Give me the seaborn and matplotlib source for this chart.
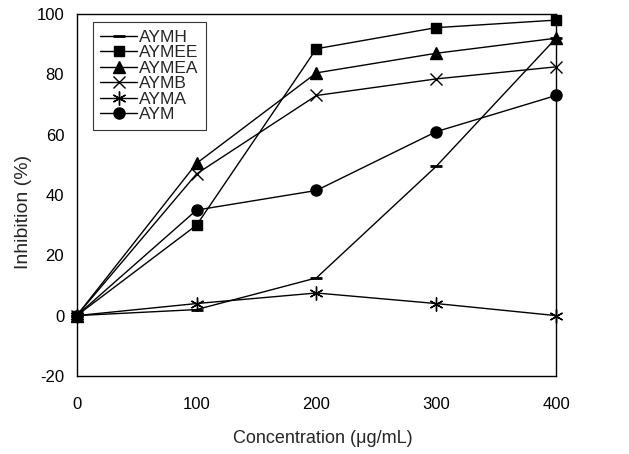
import pandas as pd
import seaborn as sns
import matplotlib.pyplot as plt

# --------------------------------------------------
# Data
# --------------------------------------------------

concentration = [0, 100, 200, 300, 400]

aymh = [0, 2, 12.5, 49.5, 92]
aymee = [0, 30, 88.5, 95.5, 98]
aymea = [0, 50.5, 80.5, 87, 92]
aymb = [0, 47, 73, 78.5, 82.5]
ayma = [0, 4, 7.5, 4, 0]
aym = [0, 35, 41.5, 61, 73]

series = {
    "AYMH": aymh,
    "AYMEE": aymee,
    "AYMEA": aymea,
    "AYMB": aymb,
    "AYMA": ayma,
    "AYM": aym,
}

markers = {
    "AYMH": ("_", 9, 2.0),
    "AYMEE": ("s", 7, 1.0),
    "AYMEA": ("^", 8, 1.0),
    "AYMB": ("x", 9, 1.0),
    "AYMA": ((6, 2, 0), 10, 1.0),
    "AYM": ("o", 8, 1.0),
}

# --------------------------------------------------
# Plot
# --------------------------------------------------

sns.set_style("white")
plt.rcParams["font.family"] = ["Liberation Sans", "DejaVu Sans"]
plt.rcParams["axes.unicode_minus"] = False

fig = plt.figure(figsize=(6.29, 4.54), dpi=100)
ax = fig.add_axes([0.122, 0.172, 0.762, 0.797])

for name, vals in series.items():
    m, ms, mew = markers[name]
    df = pd.DataFrame({"x": concentration, "y": vals})
    sns.lineplot(
        data=df, x="x", y="y", ax=ax,
        color="black", linewidth=1.0,
        marker=m, markersize=ms, markeredgewidth=mew,
        markeredgecolor="black", markerfacecolor="black",
        label=name, clip_on=False,
    )

ax.set_xlim(0, 400)
ax.set_ylim(-20, 100)
ax.set_xticks(concentration)
ax.set_yticks(range(-20, 101, 20))
ax.tick_params(direction="in", length=4, width=0.8, labelsize=12, colors="black")
ax.tick_params(axis="x", pad=15)
ax.tick_params(axis="y", pad=9)
for sp in ax.spines.values():
    sp.set_color("black")
    sp.set_linewidth(1.0)

ax.set_xlabel("Concentration (\u03bcg/mL)", fontsize=13)
ax.set_ylabel("Inhibition (%)", fontsize=14)
ax.xaxis.set_label_coords(0.514, -0.15)
ax.yaxis.set_label_coords(-0.094, 0.453)

leg = ax.legend(
    loc="upper left", bbox_to_anchor=(0.033, 0.978),
    fontsize=12.5, frameon=True, fancybox=False,
    handlelength=2.1, handletextpad=0.1, labelspacing=0.02,
    borderpad=0.45, borderaxespad=0,
)
leg.get_frame().set_edgecolor("black")
leg.get_frame().set_linewidth(0.8)

fig.savefig("out.png", dpi=100)
